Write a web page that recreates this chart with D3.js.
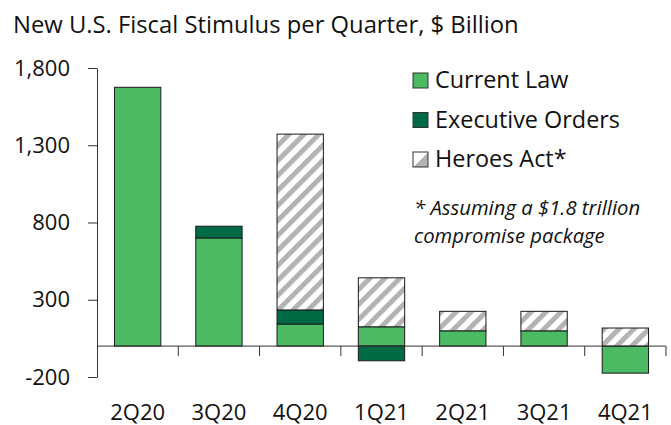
<!DOCTYPE html>
<html>
<head>
<meta charset="utf-8">
<script src="https://cdn.jsdelivr.net/npm/d3@7"></script>
<style>
  body { margin: 0; background: #fff; }
  svg text { font-family: "Open Sans", "Noto Sans", sans-serif; fill: #111; }
</style>
</head>
<body>
<svg id="chart" width="671" height="425"></svg>
<script>
// values, $ billion
var quarters = ["2Q20", "3Q20", "4Q20", "1Q21", "2Q21", "3Q21", "4Q21"]
var currentLaw = [1675, 700, 143, 125, 99, 99, -175]
var executiveOrders = [0, 76, 91, -95, 0, 0, 0]
var heroesAct = [0, 0, 1138, 317, 126, 126, 117]
var yTicks = [-200, 300, 800, 1300, 1800]
var seriesKeys = ["Current Law", "Executive Orders", "Heroes Act*"]
var noteLines = ["* Assuming a $1.8 trillion", "compromise package"]

var green = "#4cb963", darkGreen = "#006a45", hatchGray = "#b3b3b3"

var svg = d3.select("#chart")

// hatch fill for the Heroes Act
var defs = svg.append("defs")
var pat = defs.append("pattern")
	.attr("id", "hatch")
	.attr("patternUnits", "userSpaceOnUse")
	.attr("width", 10.6)
	.attr("height", 10.6)
	.attr("patternTransform", "rotate(45)")
pat.append("rect").attr("width", 10.6).attr("height", 10.6).attr("fill", "#fff")
pat.append("rect").attr("width", 5).attr("height", 10.6).attr("fill", hatchGray)

var grad = defs.append("linearGradient")
	.attr("id", "heroesKey")
	.attr("x1", "0").attr("y1", "0").attr("x2", "1").attr("y2", "1")
grad.append("stop").attr("offset", "0.5").attr("stop-color", "#fff")
grad.append("stop").attr("offset", "0.5").attr("stop-color", hatchGray)

var fills = { "Current Law": green, "Executive Orders": darkGreen, "Heroes Act*": "url(#hatch)" }

var table = quarters.map(function(q, i) {
	return { q: q, "Current Law": currentLaw[i], "Executive Orders": executiveOrders[i], "Heroes Act*": heroesAct[i] }
})

var x = d3.scaleBand()
	.domain(quarters)
	.range([97, 666])
	.paddingInner(0.43)
	.paddingOuter(0.215)

var y = d3.scaleLinear()
	.domain([-200, 1800])
	.range([377, 68])

var stacked = d3.stack()
	.keys(seriesKeys)
	.offset(d3.stackOffsetDiverging)(table)

// title
svg.append("text")
	.attr("x", 13)
	.attr("y", 33)
	.style("font-size", "23.8px")
	.text("New U.S. Fiscal Stimulus per Quarter, $ Billion")

// y axis, plain hyphen for negatives like the original
var fmt = d3.format(",")
var yAxis = svg.append("g")
	.attr("transform", "translate(97,0)")
	.call(d3.axisLeft(y)
		.tickValues(yTicks)
		.tickFormat(function(d) { return fmt(d).replace("\u2212", "-") })
		.tickSize(9)
		.tickSizeOuter(0)
		.tickPadding(18))
yAxis.select(".domain").attr("stroke", "#333")
yAxis.selectAll(".tick line").attr("stroke", "#333")
yAxis.selectAll("text")
	.style("font-size", "22px")
	.attr("fill", "#111")
	.style("font-family", "'Open Sans', sans-serif")

// bars
svg.append("g").selectAll("g")
	.data(stacked)
	.join("g")
	.attr("fill", function(d) { return fills[d.key] })
	.selectAll("rect")
	.data(function(d) { return d.filter(function(p) { return p[1] - p[0] != 0 }) })
	.join("rect")
	.attr("x", function(d) { return x(d.data.q) })
	.attr("width", x.bandwidth())
	.attr("y", function(d) { return y(Math.max(d[0], d[1])) })
	.attr("height", function(d) { return Math.abs(y(d[0]) - y(d[1])) })
	.attr("stroke", "#1a1a1a")
	.attr("stroke-width", 1)

// x axis on zero, with ticks between categories
var gap = x.step() * x.paddingInner() / 2
var bounds = quarters.map(function(q) { return x(q) - gap })
bounds.push(x(quarters[quarters.length - 1]) + x.bandwidth() + gap)
var xa = svg.append("g")
xa.append("line")
	.attr("x1", 97).attr("x2", 666)
	.attr("y1", y(0)).attr("y2", y(0))
	.attr("stroke", "#333")
xa.selectAll(".xt")
	.data(bounds.slice(1))
	.join("line")
	.attr("class", "xt")
	.attr("x1", function(d) { return d }).attr("x2", function(d) { return d })
	.attr("y1", y(0)).attr("y2", y(0) + 10)
	.attr("stroke", "#333")
xa.selectAll(".xl")
	.data(quarters)
	.join("text")
	.attr("class", "xl")
	.attr("x", function(d) { return x(d) + x.bandwidth() / 2 })
	.attr("y", 420)
	.attr("text-anchor", "middle")
	.style("font-size", "22px")
	.text(function(d) { return d })

// legend
var legend = svg.append("g")
legend.selectAll("rect")
	.data(seriesKeys)
	.join("rect")
	.attr("x", 413)
	.attr("y", function(d, i) { return 73 + i * 39.5 })
	.attr("width", 15)
	.attr("height", 15)
	.attr("fill", function(d) { return d == "Heroes Act*" ? "url(#heroesKey)" : fills[d] })
	.attr("stroke", "#333")
legend.selectAll("text")
	.data(seriesKeys)
	.join("text")
	.attr("x", 435)
	.attr("y", function(d, i) { return 88 + i * 39.5 })
	.style("font-size", "23.4px")
	.text(function(d) { return d })

// footnote
svg.selectAll(".note")
	.data(noteLines)
	.join("text")
	.attr("class", "note")
	.attr("x", 414)
	.attr("y", function(d, i) { return 215 + i * 28 })
	.style("font-size", "20.3px")
	.style("font-style", "italic")
	.text(function(d) { return d })
</script>
</body>
</html>
